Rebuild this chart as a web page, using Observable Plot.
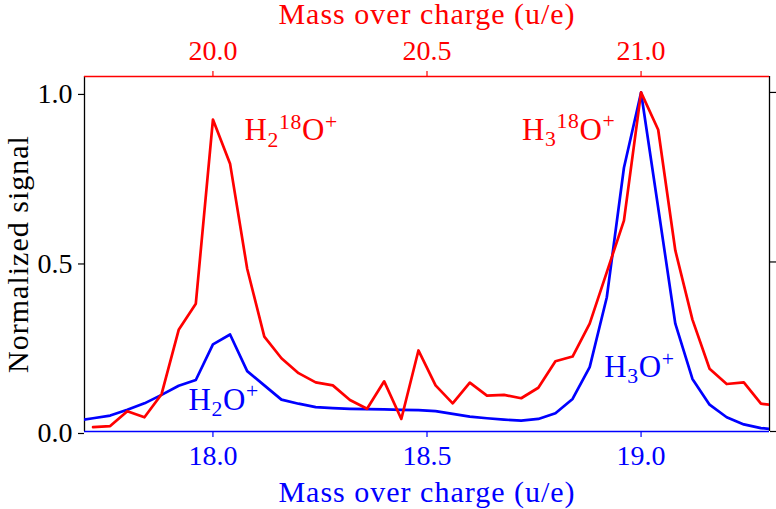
<!DOCTYPE html>
<html>
<head>
<meta charset="utf-8">
<script src="https://cdn.jsdelivr.net/npm/d3@7"></script>
<script src="https://cdn.jsdelivr.net/npm/@observablehq/plot@0.6"></script>
<style>
  html, body { margin: 0; padding: 0; background: #fff; font-family: 'Liberation Serif', 'DejaVu Serif', serif; }
  #chart { width: 776px; height: 509px; }
  #chart svg text { font-family: 'Liberation Serif', 'DejaVu Serif', serif !important; }
</style>
</head>
<body>
<div id="chart"></div>
<script>
// ---- data ----
const massBlue = [17.68, 17.72, 17.76, 17.80, 17.84, 17.88, 17.92, 17.96, 18.00, 18.04, 18.08, 18.12, 18.16, 18.20, 18.24, 18.28, 18.32, 18.36, 18.40, 18.44, 18.48, 18.52, 18.56, 18.60, 18.64, 18.68, 18.72, 18.76, 18.80, 18.84, 18.88, 18.92, 18.96, 19.00, 19.04, 19.08, 19.12, 19.16, 19.20, 19.24, 19.28, 19.32];
const signalBlue = [0.032, 0.039, 0.047, 0.064, 0.083, 0.108, 0.135, 0.152, 0.257, 0.286, 0.178, 0.136, 0.094, 0.082, 0.072, 0.069, 0.067, 0.066, 0.065, 0.064, 0.063, 0.060, 0.052, 0.044, 0.039, 0.035, 0.032, 0.037, 0.054, 0.096, 0.190, 0.396, 0.778, 1.000, 0.660, 0.318, 0.155, 0.079, 0.042, 0.021, 0.010, 0.005];

const massRed = [17.72, 17.76, 17.80, 17.84, 17.88, 17.92, 17.96, 18.00, 18.04, 18.08, 18.12, 18.16, 18.20, 18.24, 18.28, 18.32, 18.36, 18.40, 18.44, 18.48, 18.52, 18.56, 18.60, 18.64, 18.68, 18.72, 18.76, 18.80, 18.84, 18.88, 18.92, 18.96, 19.00, 19.04, 19.08, 19.12, 19.16, 19.20, 19.24, 19.28, 19.32];
const signalRed = [0.013, 0.016, 0.060, 0.042, 0.110, 0.300, 0.377, 0.920, 0.790, 0.480, 0.280, 0.216, 0.172, 0.145, 0.136, 0.093, 0.067, 0.148, 0.037, 0.239, 0.136, 0.083, 0.144, 0.106, 0.108, 0.098, 0.129, 0.207, 0.221, 0.318, 0.470, 0.622, 1.000, 0.890, 0.534, 0.330, 0.185, 0.140, 0.145, 0.082, 0.076];

const xDomain = [17.7, 19.3];
const yDomain = [0, 1.047];
const xTicks = [18.0, 18.5, 19.0];
const yTicks = [0.0, 0.5, 1.0];
const topOffset = 2; // top (red) axis = bottom axis + 2 u/e

const xLabel = "Mass over charge (u/e)";
const yLabel = "Normalized signal";

const annoText = ["H_{2}O^{+}", "H_{3}O^{+}", "H_{2}^{18}O^{+}", "H_{3}^{18}O^{+}"];
const annoX = [17.943, 18.914, 18.074, 18.722];
const annoY = [0.094, 0.190, 0.888, 0.890];
const annoColor = ["blue", "blue", "red", "red"];

// ---- build ----
const FONT = "'Liberation Serif', 'DejaVu Serif', serif";
const FS = 28;
const LFS = 30;   // axis-label font size
const AFS = 31;   // annotation font size
const blueData = massBlue.map((m, i) => ({m, s: signalBlue[i]}));
const redData = massRed.map((m, i) => ({m, s: signalRed[i]}));
const annoData = annoText.map((t, i) => ({t, x: annoX[i], y: annoY[i], c: annoColor[i]}));

const chart = Plot.plot({
  width: 776,
  height: 509,
  marginLeft: 84,
  marginRight: 7,
  marginTop: 76,
  marginBottom: 78,
  style: {fontFamily: FONT, fontSize: FS + "px", background: "white"},
  x: {domain: xDomain},
  y: {domain: yDomain},
  marks: [
    Plot.axisX({anchor: "bottom", ticks: xTicks, tickFormat: d => d.toFixed(1), color: "blue", tickSize: 6, tickPadding: 8, strokeWidth: 1.2, fontSize: FS, label: null}),
    Plot.axisX({anchor: "top", ticks: xTicks, tickFormat: d => (d + topOffset).toFixed(1), color: "red", tickSize: 6, tickPadding: 11, strokeWidth: 1.2, fontSize: FS, label: null}),
    Plot.axisY({anchor: "left", ticks: yTicks, tickFormat: d => d.toFixed(1), color: "black", tickSize: 6, tickPadding: 6, strokeWidth: 1.2, fontSize: FS, dy: 2, label: null}),
    Plot.axisY({anchor: "right", ticks: yTicks, tickFormat: () => "", color: "black", tickSize: 6, strokeWidth: 1.2, label: null}),
    Plot.ruleX([xDomain[0], xDomain[1]], {y1: yDomain[0], y2: yDomain[1], stroke: "black", strokeWidth: 1.3}),
    Plot.ruleY([yDomain[1]], {x1: xDomain[0], x2: xDomain[1], stroke: "red", strokeWidth: 1.3}),
    Plot.ruleY([yDomain[0]], {x1: xDomain[0], x2: xDomain[1], stroke: "blue", strokeWidth: 1.3}),
    Plot.line(blueData, {x: "m", y: "s", stroke: "blue", strokeWidth: 2.7, clip: true}),
    Plot.line(redData, {x: "m", y: "s", stroke: "red", strokeWidth: 2.7, clip: true}),
    Plot.text(annoData, {x: "x", y: "y", text: "t", fill: "c", textAnchor: "start", lineAnchor: "middle", fontSize: AFS}),
    Plot.text([xLabel], {frameAnchor: "bottom", textAnchor: "middle", lineAnchor: "bottom", dy: 70, fill: "blue", fontSize: LFS}),
    Plot.text([xLabel], {frameAnchor: "top", textAnchor: "middle", lineAnchor: "bottom", dy: -53, fill: "red", fontSize: LFS}),
    Plot.text([yLabel], {frameAnchor: "left", textAnchor: "middle", lineAnchor: "bottom", rotate: -90, dx: -57, fill: "black", fontSize: LFS})
  ]
});

// styling tweaks + turn _{..} / ^{..} markup into real sub/superscript tspans
const NS = "http://www.w3.org/2000/svg";
chart.querySelectorAll("text").forEach(el => {
  el.setAttribute("font-family", FONT);
  const content = el.textContent;
  if (content === xLabel || content === yLabel) el.setAttribute("letter-spacing", "1");
  if (!/[_^]\{/.test(content)) return;
  const fs = AFS;
  el.setAttribute("letter-spacing", "0.6");
  el.textContent = "";
  let shift = 0;
  for (const m of content.matchAll(/([_^])\{([^}]*)\}|([^_^]+)/g)) {
    const t = document.createElementNS(NS, "tspan");
    let target = 0, str;
    if (m[1]) {
      target = m[1] === "_" ? fs * 0.2 : -fs * 0.36;
      str = m[2];
      t.setAttribute("font-size", (fs * 0.7).toFixed(1));
    } else {
      str = m[3];
    }
    t.setAttribute("dy", (target - shift).toFixed(1));
    shift = target;
    t.textContent = str;
    el.appendChild(t);
  }
});

document.getElementById("chart").appendChild(chart);
</script>
</body>
</html>
